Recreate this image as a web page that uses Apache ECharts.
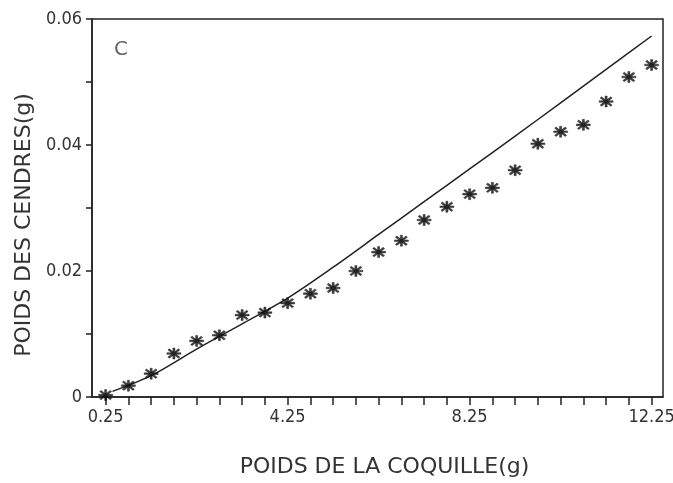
<!DOCTYPE html>
<html>
<head>
<meta charset="utf-8">
<script src="https://cdn.jsdelivr.net/npm/echarts@6/dist/echarts.min.js"></script>
<style>
html,body{margin:0;padding:0;background:#fff;}
#chart{width:673px;height:483px;}
</style>
</head>
<body>
<div id="chart"></div>
<script>
// Shell weight (g) of each observation
const shellWeights = [0.25, 0.75, 1.25, 1.75, 2.25, 2.75, 3.25, 3.75, 4.25, 4.75, 5.25, 5.75, 6.25,
  6.75, 7.25, 7.75, 8.25, 8.75, 9.25, 9.75, 10.25, 10.75, 11.25, 11.75, 12.25];
// Observed ash weight (g)
const ashWeights = [0.0003, 0.0018, 0.0037, 0.0069, 0.0089, 0.0098, 0.0130, 0.0134, 0.0149, 0.0164,
  0.0173, 0.0200, 0.0230, 0.0248, 0.0281, 0.0302, 0.0322, 0.0332, 0.0360, 0.0402, 0.0421, 0.0432,
  0.0469, 0.0508, 0.0527];
// Fitted curve
const fitX = [0.4, 1.25, 2.25, 3.25, 4.25, 5.25, 6.25, 7.25, 8.25, 9.25, 10.25, 11.25, 12.25];
const fitY = [0.0009, 0.0034, 0.0076, 0.0116, 0.0157, 0.0206, 0.0258, 0.0310, 0.0362, 0.0414, 0.0467, 0.0520, 0.0573];
// Axis ticks / labels
const xTickValues = [0.25, 0.75, 1.25, 1.75, 2.25, 2.75, 3.25, 3.75, 4.25, 4.75, 5.25, 5.75, 6.25,
  6.75, 7.25, 7.75, 8.25, 8.75, 9.25, 9.75, 10.25, 10.75, 11.25, 11.75, 12.25];
const xLabelValues = [0.25, 4.25, 8.25, 12.25];
const yLabelValues = [0, 0.02, 0.04, 0.06];

const scatterData = shellWeights.map((x, i) => [x, ashWeights[i]]);
const lineData = fitX.map((x, i) => [x, fitY[i]]);

const asterisk = 'path://M0 8.5H20V11.5H0Z M8.5 0H11.5V20H8.5Z M1.4 3.5L3.5 1.4L18.6 16.5L16.5 18.6Z M16.5 1.4L18.6 3.5L3.5 18.6L1.4 16.5Z';
const condFont = '"DejaVu Sans Condensed", "Liberation Sans Narrow", "Liberation Sans", sans-serif';
const nameFont = '"DejaVu Sans", "Liberation Sans", sans-serif';

const chart = echarts.init(document.getElementById('chart'));
chart.setOption({
  animation: false,
  backgroundColor: '#fff',
  grid: { left: 92, right: 10, top: 19, bottom: 86, show: true, borderColor: '#222', borderWidth: 1.5,
    containLabel: false, outerBoundsMode: 'none' },
  graphic: [{
    type: 'text', left: 114, top: 40,
    style: { text: 'C', font: '20px ' + nameFont, fill: '#666' }
  }],
  xAxis: {
    type: 'value', min: -0.05, max: 12.5,
    name: 'POIDS DE LA COQUILLE(g)', nameLocation: 'middle', nameGap: 59,
    nameTextStyle: { fontFamily: nameFont, fontSize: 22, color: '#333', padding: [0, 0, 0, 14] },
    axisLine: { show: true, onZero: false, lineStyle: { color: '#222', width: 1.5 } },
    axisTick: { show: true, inside: false, length: 8, customValues: xTickValues, lineStyle: { color: '#222', width: 1.5 } },
    axisLabel: { customValues: xLabelValues, fontFamily: condFont, fontSize: 18, color: '#333', margin: 11,
      formatter: v => v.toFixed(2) },
    splitLine: { show: false }
  },
  yAxis: {
    type: 'value', min: 0, max: 0.06, interval: 0.01,
    name: 'POIDS DES CENDRES(g)', nameLocation: 'middle', nameGap: 57,
    nameTextStyle: { fontFamily: nameFont, fontSize: 22, color: '#333', padding: [0, 34, 0, 0] },
    axisLine: { show: true, onZero: false, lineStyle: { color: '#222', width: 1.5 } },
    axisTick: { show: true, inside: false, length: 6, lineStyle: { color: '#222', width: 1.5 } },
    axisLabel: { fontFamily: condFont, fontSize: 18, color: '#333', margin: 10,
      formatter: v => {
        const k = Math.round(v * 100);
        if (k % 2 !== 0) return '';
        return k === 0 ? '0' : v.toFixed(2);
      } },
    splitLine: { show: false }
  },
  series: [
    {
      type: 'line', data: lineData, smooth: 0.3, showSymbol: false,
      lineStyle: { color: '#222', width: 1.5 }, z: 2
    },
    {
      type: 'scatter', data: scatterData, symbol: asterisk, symbolSize: [14, 11],
      itemStyle: { color: '#111', borderColor: '#111', borderWidth: 0.5 }, z: 3
    }
  ]
});
</script>
</body>
</html>
